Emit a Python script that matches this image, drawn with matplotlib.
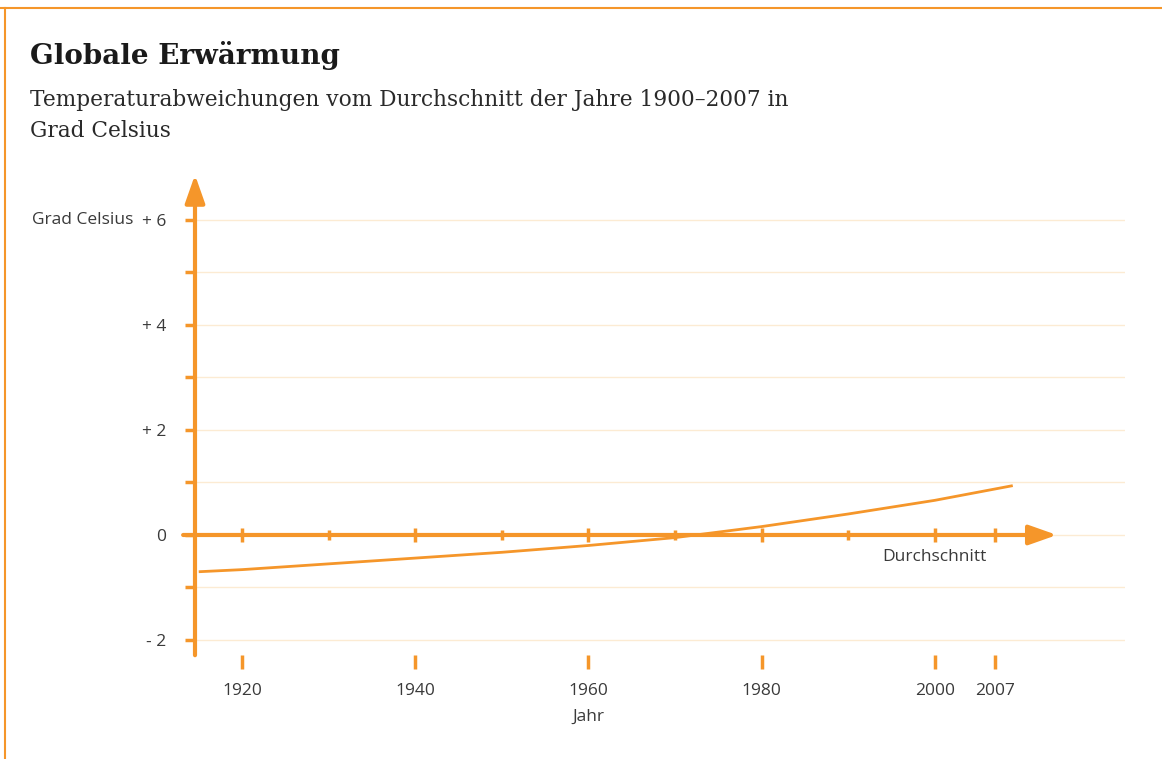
import matplotlib.pyplot as plt
from matplotlib.lines import Line2D

# data
years = [1915, 1920, 1930, 1940, 1950, 1960, 1970, 1980, 1990, 2000, 2009]
abweichung = [-0.70, -0.66, -0.55, -0.44, -0.33, -0.20, -0.05, 0.16, 0.40, 0.66, 0.94]
tick_years = [1920, 1940, 1960, 1980, 2000, 2007]
tick_labels = ['1920', '1940', '1960', '1980', '2000', '2007']
zero_major = [1920, 1940, 1960, 1980, 2000, 2007]
zero_minor = [1930, 1950, 1970, 1990]
y_ticks = [-2, -1, 0, 1, 2, 3, 4, 5, 6]
y_labels = ['- 2', '', '0', '', '+ 2', '', '+ 4', '', '+ 6']

orange = '#f5962a'
grid_col = '#fcebd3'
txt_col = '#3a3a3a'
sans = ['Open Sans', 'DejaVu Sans']
serif = ['DejaVu Serif']

W, H = 1162, 759
fig = plt.figure(figsize=(W / 100, H / 100), dpi=100)

# axes placed in pixel terms: y axis at x=195, plot to x=1125, y from 655 to 170
ax = fig.add_axes([195 / W, 1 - 655 / H, (1125 - 195) / W, (655 - 170) / H])
x0, x1 = 1914.57, 2021.96
ax.set_xlim(x0, x1)
ax.set_ylim(-2.286, 6.952)
for s in ax.spines.values():
    s.set_visible(False)

ax.set_yticks(y_ticks)
ax.set_yticklabels(y_labels, fontsize=12.5, color=txt_col, family=sans)
ax.tick_params(axis='y', length=7.5, width=2.5, color=orange, pad=13)
ax.grid(axis='y', color=grid_col, lw=1)
ax.set_axisbelow(True)

ax.set_xticks(tick_years)
ax.set_xticklabels(tick_labels, fontsize=12.5, color=txt_col, family=sans)
ax.tick_params(axis='x', length=10, width=2.5, color=orange, pad=10, direction='out')

# y axis with arrow
ax.annotate('', xy=(x0, 6.86), xytext=(x0, -2.29),
            arrowprops=dict(arrowstyle='-|>,head_length=0.85,head_width=0.3',
                            mutation_scale=20, color=orange, lw=3,
                            shrinkA=0, shrinkB=0), annotation_clip=False)
# zero line with arrow
ax.annotate('', xy=(2014.1, 0), xytext=(1913.2, 0),
            arrowprops=dict(arrowstyle='-|>,head_length=0.85,head_width=0.3',
                            mutation_scale=20, color=orange, lw=3,
                            shrinkA=0, shrinkB=0), annotation_clip=False)
ax.plot(zero_major, [0] * len(zero_major), ls='none', marker='|', ms=10,
        mew=2.5, color=orange)
ax.plot(zero_minor, [0] * len(zero_minor), ls='none', marker='|', ms=6.5,
        mew=2.5, color=orange)

ax.plot(years, abweichung, color=orange, lw=2, solid_capstyle='butt')

ax.text(2000, -0.42, 'Durchschnitt', fontsize=12.5, color=txt_col,
        family=sans, ha='center', va='center')
ax.text(1960, -3.47, 'Jahr', fontsize=12.5, color=txt_col, family=sans,
        ha='center', va='center')
fig.text(133 / W, 1 - 220 / H, 'Grad Celsius', fontsize=12.5, color=txt_col,
         family=sans, ha='right', va='center')

# titles
fig.text(30 / W, 1 - 56 / H, 'Globale Erwärmung', fontsize=20, fontweight='bold',
         color='#1a1a1a', family=serif, va='center')
fig.text(30 / W, 1 - 100 / H,
         'Temperaturabweichungen vom Durchschnitt der Jahre 1900–2007 in',
         fontsize=15.6, color='#2a2a2a', family=serif, va='center')
fig.text(30 / W, 1 - 131 / H, 'Grad Celsius', fontsize=15.6, color='#2a2a2a',
         family=serif, va='center')

# page frame
fig.add_artist(Line2D([0, 1], [1 - 8 / H, 1 - 8 / H], color=orange, lw=1.5))
fig.add_artist(Line2D([5 / W, 5 / W], [0, 1 - 8 / H], color=orange, lw=1.5))

fig.savefig('out.png', dpi=100)
